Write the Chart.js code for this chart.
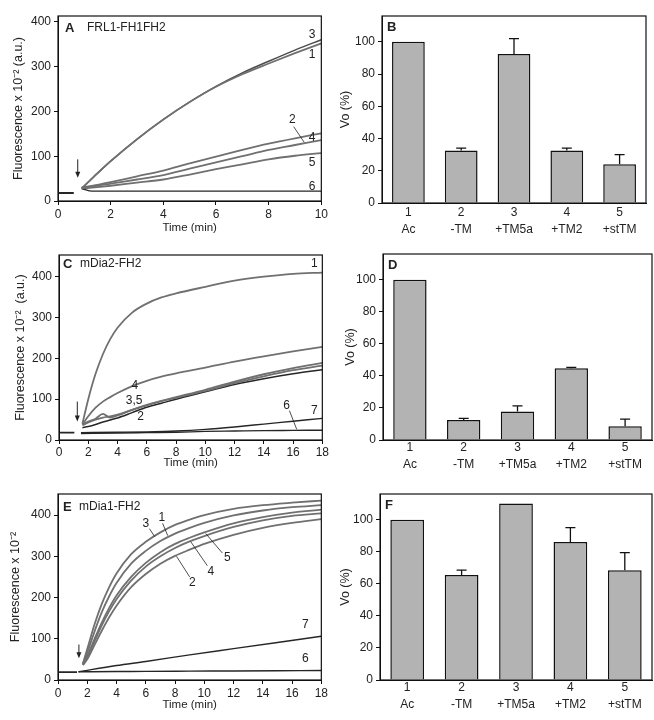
<!DOCTYPE html>
<html>
<head>
<meta charset="utf-8">
<script src="https://cdn.jsdelivr.net/npm/chart.js@4/dist/chart.umd.min.js"></script>
<style>
  body { margin: 0; background: #fff; width: 654px; height: 720px; position: relative; overflow: hidden; }
  canvas { position: absolute; }
</style>
</head>
<body>
<canvas id="pA" width="330" height="240" style="left:0;top:0"></canvas>
<canvas id="pB" width="324" height="240" style="left:330px;top:0"></canvas>
<canvas id="pC" width="330" height="240" style="left:0;top:240px"></canvas>
<canvas id="pD" width="324" height="240" style="left:330px;top:240px"></canvas>
<canvas id="pE" width="330" height="240" style="left:0;top:480px"></canvas>
<canvas id="pF" width="324" height="240" style="left:330px;top:480px"></canvas>
<script>
// ---- panel A: FRL1-FH1FH2 time courses
const timeA = [0.9, 1.5, 2, 3, 4, 5, 6, 7, 8, 9, 10];
const a1 = [28, 62, 89, 138, 182, 221, 255, 283, 307, 330, 352];
const a3 = [28, 62, 89, 138, 182, 221, 256, 286, 312, 337, 360];
const a2 = [30, 34, 39, 48, 58, 72, 86, 100, 114, 125, 136];
const a4 = [30, 36, 42, 55, 68, 84, 99, 114, 128, 140, 151];
const a5 = [28, 31, 34, 41, 48, 59, 71, 82, 93, 101, 107];
const timeA6 = [0.9, 1.3, 4, 7, 10];
const a6 = [28, 22, 22, 22, 22];
const timeBaseA = [0, 0.6];
const baseA = [18, 18];

// ---- panel C: mDia2-FH2
const timeC = [1.6, 2, 2.5, 3, 3.5, 4, 5, 6, 7, 8, 10, 12, 14, 16, 18];
const c1 = [40, 100, 162, 210, 247, 275, 312, 334, 349, 359, 375, 390, 400, 407, 410];
const c4 = [38, 58, 79, 94, 105, 115, 132, 145, 155, 163, 177, 192, 205, 217, 228];
const c3 = [38, 45, 52, 64, 55, 60, 74, 86, 96, 105, 123, 143, 161, 176, 189];
const c5 = [36, 43, 50, 55, 58, 62, 74, 85, 95, 103, 120, 139, 156, 171, 182];
const c2 = [30, 33, 38, 44, 49, 54, 67, 80, 90, 100, 118, 136, 150, 162, 172];
const timeC67 = [1.5, 4, 6, 8, 10, 12, 14, 16, 18];
const c7 = [18, 19, 20, 22, 26, 32, 39, 46, 53];
const c6 = [16, 17, 18, 19, 21, 22, 23, 23.5, 24];
const timeBaseC = [0, 1.05];
const baseC = [18, 18];

// ---- panel E: mDia1-FH2
const timeE = [1.7, 2, 2.5, 3, 3.5, 4, 5, 6, 7, 8, 9, 10, 12, 14, 16, 18];
const e3 = [40, 75, 135, 185, 225, 258, 305, 335, 358, 376, 389, 400, 415, 424, 430, 435];
const e1 = [38, 66, 118, 165, 203, 235, 282, 313, 337, 355, 369, 381, 399, 411, 419, 424];
const e5 = [38, 58, 100, 140, 175, 205, 250, 284, 310, 330, 345, 358, 380, 395, 406, 413];
const e4 = [37, 55, 94, 133, 167, 196, 241, 275, 300, 320, 336, 349, 371, 387, 398, 404];
const e2 = [36, 50, 85, 120, 152, 180, 225, 257, 282, 301, 316, 330, 352, 369, 381, 390];
const timeE67 = [1.4, 4, 6, 9, 12, 15, 18];
const e7 = [20, 35, 45, 61, 76, 91, 106];
const e6 = [20, 20.5, 21, 21.5, 22, 22.5, 23];
const timeBaseE = [0, 1.3];
const baseE = [19, 19];

// ---- bar panels B, D, F (Vo %)
const groups = [['1', 'Ac'], ['2', '-TM'], ['3', '+TM5a'], ['4', '+TM2'], ['5', '+stTM']];
const vB = [100, 32.5, 92.5, 32.5, 24];
const errB = [0, 1.5, 9.5, 1.5, 6];
const vD = [100, 12.5, 17.8, 44.8, 8.5];
const errD = [0, 1, 3.5, 0.5, 4.5];
const vF = [100, 65.5, 110, 86, 68.5];
const errF = [0, 3, 0, 9, 11];

// ---- curve numbers, leader lines and injection arrows (data units)
const labelsA = [['3', 9.65, 372], ['1', 9.65, 326], ['2', 8.9, 181], ['4', 9.65, 142], ['5', 9.65, 86], ['6', 9.65, 32]];
const leadersA = [[8.95, 166, 9.35, 131]];
const labelsC = [['1', 17.45, 431], ['4', 5.18, 132], ['3,5', 5.13, 96], ['2', 5.57, 57], ['6', 15.56, 83], ['7', 17.45, 72]];
const leadersC = [[15.75, 72, 16.25, 26]];
const labelsE = [['3', 6.0, 378], ['1', 7.09, 393], ['5', 11.57, 297], ['4', 10.44, 263], ['2', 9.19, 237], ['7', 16.9, 134], ['6', 16.9, 52]];
const leadersE = [[6.25, 367, 6.6, 348], [7.15, 380, 7.5, 350], [11.23, 308, 10.1, 355], [10.21, 277, 9.08, 335], [9.0, 250, 8.1, 300]];
const arrowsA = [[0.75, 93, 52]];
const arrowsC = [[1.25, 94, 45]];
const arrowsE = [[1.43, 86, 53]];

const FONT = '"Liberation Sans", Arial, sans-serif';
Chart.defaults.font.family = FONT;
Chart.defaults.font.size = 12;
Chart.defaults.color = '#222';
Chart.defaults.animation = false;

const framePlugin = {
  id: 'frame',
  afterDatasetsDraw(chart) {
    const {ctx, chartArea: a} = chart;
    ctx.save();
    ctx.strokeStyle = '#111';
    ctx.lineWidth = 1.2;
    ctx.strokeRect(a.left, a.top, a.right - a.left, a.bottom - a.top);
    ctx.restore();
  }
};

const notesPlugin = {
  id: 'notes',
  afterDraw(chart, args, opts) {
    const {ctx, chartArea: a, scales: {x, y}} = chart;
    ctx.save();
    ctx.fillStyle = '#222';
    ctx.strokeStyle = '#222';
    ctx.textBaseline = 'middle';
    // panel letter + construct name
    ctx.font = 'bold 13px ' + FONT;
    ctx.fillText(opts.letter, a.left + opts.head[0], a.top + opts.head[1]);
    if (opts.name) {
      ctx.font = '12px ' + FONT;
      ctx.fillText(opts.name, a.left + opts.head[2], a.top + opts.head[1]);
    }
    ctx.font = '12px ' + FONT;
    ctx.textAlign = 'center';
    (opts.labels || []).forEach(([t, vx, vy]) => {
      ctx.fillText(t, x.getPixelForValue(vx), y.getPixelForValue(vy));
    });
    ctx.lineWidth = 0.8;
    (opts.leaders || []).forEach(([x1, y1, x2, y2]) => {
      ctx.beginPath();
      ctx.moveTo(x.getPixelForValue(x1), y.getPixelForValue(y1));
      ctx.lineTo(x.getPixelForValue(x2), y.getPixelForValue(y2));
      ctx.stroke();
    });
    ctx.lineWidth = 1;
    (opts.arrows || []).forEach(([vx, y1, y2]) => {
      const px = x.getPixelForValue(vx), top = y.getPixelForValue(y1), tip = y.getPixelForValue(y2);
      ctx.beginPath();
      ctx.moveTo(px, top);
      ctx.lineTo(px, tip - 4);
      ctx.stroke();
      ctx.beginPath();
      ctx.moveTo(px - 2.5, tip - 6);
      ctx.lineTo(px + 2.5, tip - 6);
      ctx.lineTo(px, tip);
      ctx.closePath();
      ctx.fill();
    });
    // error bars (bar panels only)
    if (opts.errors) {
      const meta = chart.getDatasetMeta(0);
      ctx.strokeStyle = '#111';
      ctx.lineWidth = 1.3;
      opts.errors.forEach((e, i) => {
        if (!e) return;
        const v = chart.data.datasets[0].data[i];
        const px = meta.data[i].x, py0 = y.getPixelForValue(v), py1 = y.getPixelForValue(v + e);
        ctx.beginPath();
        ctx.moveTo(px, py0);
        ctx.lineTo(px, py1);
        ctx.moveTo(px - 5, py1);
        ctx.lineTo(px + 5, py1);
        ctx.stroke();
      });
    }
    ctx.restore();
  }
};

function curve(xs, ys, color, width) {
  return {
    data: xs.map((t, i) => ({x: t, y: ys[i]})),
    borderColor: color,
    borderWidth: width,
    pointRadius: 0,
    cubicInterpolationMode: 'monotone'
  };
}

function axisGrid() {
  return {drawOnChartArea: false, drawTicks: true, tickLength: 4, tickColor: '#111'};
}

function lineChart(id, box, xMax, yMax, yTitle, datasets, notes) {
  const cv = document.getElementById(id);
  return new Chart(cv.getContext('2d'), {
    type: 'line',
    data: {datasets: datasets},
    options: {
      responsive: false,
      layout: {padding: {left: box.pl, top: box.t, right: cv.width - box.r, bottom: box.pb}},
      plugins: {legend: {display: false}, tooltip: {enabled: false}, notes: notes},
      scales: {
        x: {
          type: 'linear', min: 0, max: xMax,
          ticks: {stepSize: 2, padding: box.tp},
          grid: axisGrid(),
          border: {color: '#111'},
          title: {display: true, text: 'Time (min)', font: {size: 11.5}, padding: {top: 0, bottom: 4}},
          afterFit(s) { s.height = cv.height - box.pb - box.b; }
        },
        y: {
          min: 0, max: yMax,
          ticks: {stepSize: 100, includeBounds: false, padding: 3},
          grid: axisGrid(),
          border: {color: '#111'},
          title: {display: true, text: yTitle, font: {size: 12.5}, padding: {top: 4, bottom: 4}},
          afterFit(s) { s.width = box.l - box.pl; }
        }
      }
    },
    plugins: [framePlugin, notesPlugin]
  });
}

function barChart(id, box, values, errors, letter) {
  const cv = document.getElementById(id);
  return new Chart(cv.getContext('2d'), {
    type: 'bar',
    data: {
      labels: groups,
      datasets: [{
        data: values,
        backgroundColor: '#b3b3b3',
        borderColor: '#111',
        borderWidth: 1.5,
        barPercentage: 0.62,
        categoryPercentage: 1
      }]
    },
    options: {
      responsive: false,
      layout: {padding: {left: box.pl, top: box.t, right: cv.width - box.r, bottom: 0}},
      plugins: {legend: {display: false}, tooltip: {enabled: false},
        notes: {letter: letter, head: [5, 11], errors: errors}},
      scales: {
        x: {
          ticks: {padding: box.tp, font: {size: 12, lineHeight: 1.35}},
          grid: {display: false},
          border: {color: '#111'},
          afterFit(s) { s.height = cv.height - box.b; }
        },
        y: {
          min: 0, max: 116,
          ticks: {stepSize: 20, includeBounds: false, padding: 3},
          grid: axisGrid(),
          border: {color: '#111'},
          title: {display: true, text: 'Vo (%)', font: {size: 12.5}, padding: {top: 4, bottom: 4}},
          afterFit(s) { s.width = box.l - box.pl; }
        }
      }
    },
    plugins: [framePlugin, notesPlugin]
  });
}

const GREY = '#707070', DARK = '#262626';

lineChart('pA', {pl: 7, l: 58, t: 16, r: 323, b: 201, pb: 1, tp: 2}, 10, 413, 'Fluorescence x 10\u207B\u00B2 (a.u.)', [
  curve(timeBaseA, baseA, DARK, 2),
  curve(timeA, a1, GREY, 1.8),
  curve(timeA, a3, '#4a4a4a', 1.4),
  curve(timeA, a2, GREY, 1.8),
  curve(timeA, a4, GREY, 1.8),
  curve(timeA, a5, GREY, 1.8),
  curve(timeA6, a6, DARK, 1.4)
], {letter: 'A', name: 'FRL1-FH1FH2', head: [7, 12, 29], labels: labelsA, leaders: leadersA, arrows: arrowsA});

barChart('pB', {pl: 4, l: 52, t: 16, r: 316, b: 203, tp: -6}, vB, errB, 'B');

lineChart('pC', {pl: 9, l: 59, t: 15, r: 323, b: 200, pb: 6, tp: 1}, 18, 453, 'Fluorescence x 10\u207B\u00B2  (a.u.)', [
  curve(timeBaseC, baseC, DARK, 1.6),
  curve(timeC, c1, GREY, 1.8),
  curve(timeC, c4, GREY, 1.8),
  curve(timeC, c3, GREY, 1.8),
  curve(timeC, c5, GREY, 1.8),
  curve(timeC, c2, DARK, 1.5),
  curve(timeC67, c7, DARK, 1.4),
  curve(timeC67, c6, DARK, 1.4)
], {letter: 'C', name: 'mDia2-FH2', head: [4, 9, 21], labels: labelsC, leaders: leadersC, arrows: arrowsC});

barChart('pD', {pl: 9, l: 53, t: 14, r: 322, b: 200, tp: -8}, vD, errD, 'D');

lineChart('pE', {pl: 4, l: 58, t: 14, r: 323, b: 200, pb: 4, tp: 2}, 18, 451, 'Fluorescence x 10\u207B\u00B2', [
  curve(timeBaseE, baseE, DARK, 1.6),
  curve(timeE, e3, GREY, 1.8),
  curve(timeE, e1, GREY, 1.8),
  curve(timeE, e5, GREY, 1.8),
  curve(timeE, e4, GREY, 1.8),
  curve(timeE, e2, GREY, 1.8),
  curve(timeE67, e7, DARK, 1.4),
  curve(timeE67, e6, DARK, 1.4)
], {letter: 'E', name: 'mDia1-FH2', head: [5, 13, 21], labels: labelsE, leaders: leadersE, arrows: arrowsE});

barChart('pF', {pl: 4, l: 50, t: 14, r: 322, b: 200, tp: -8}, vF, errF, 'F');
</script>
</body>
</html>
